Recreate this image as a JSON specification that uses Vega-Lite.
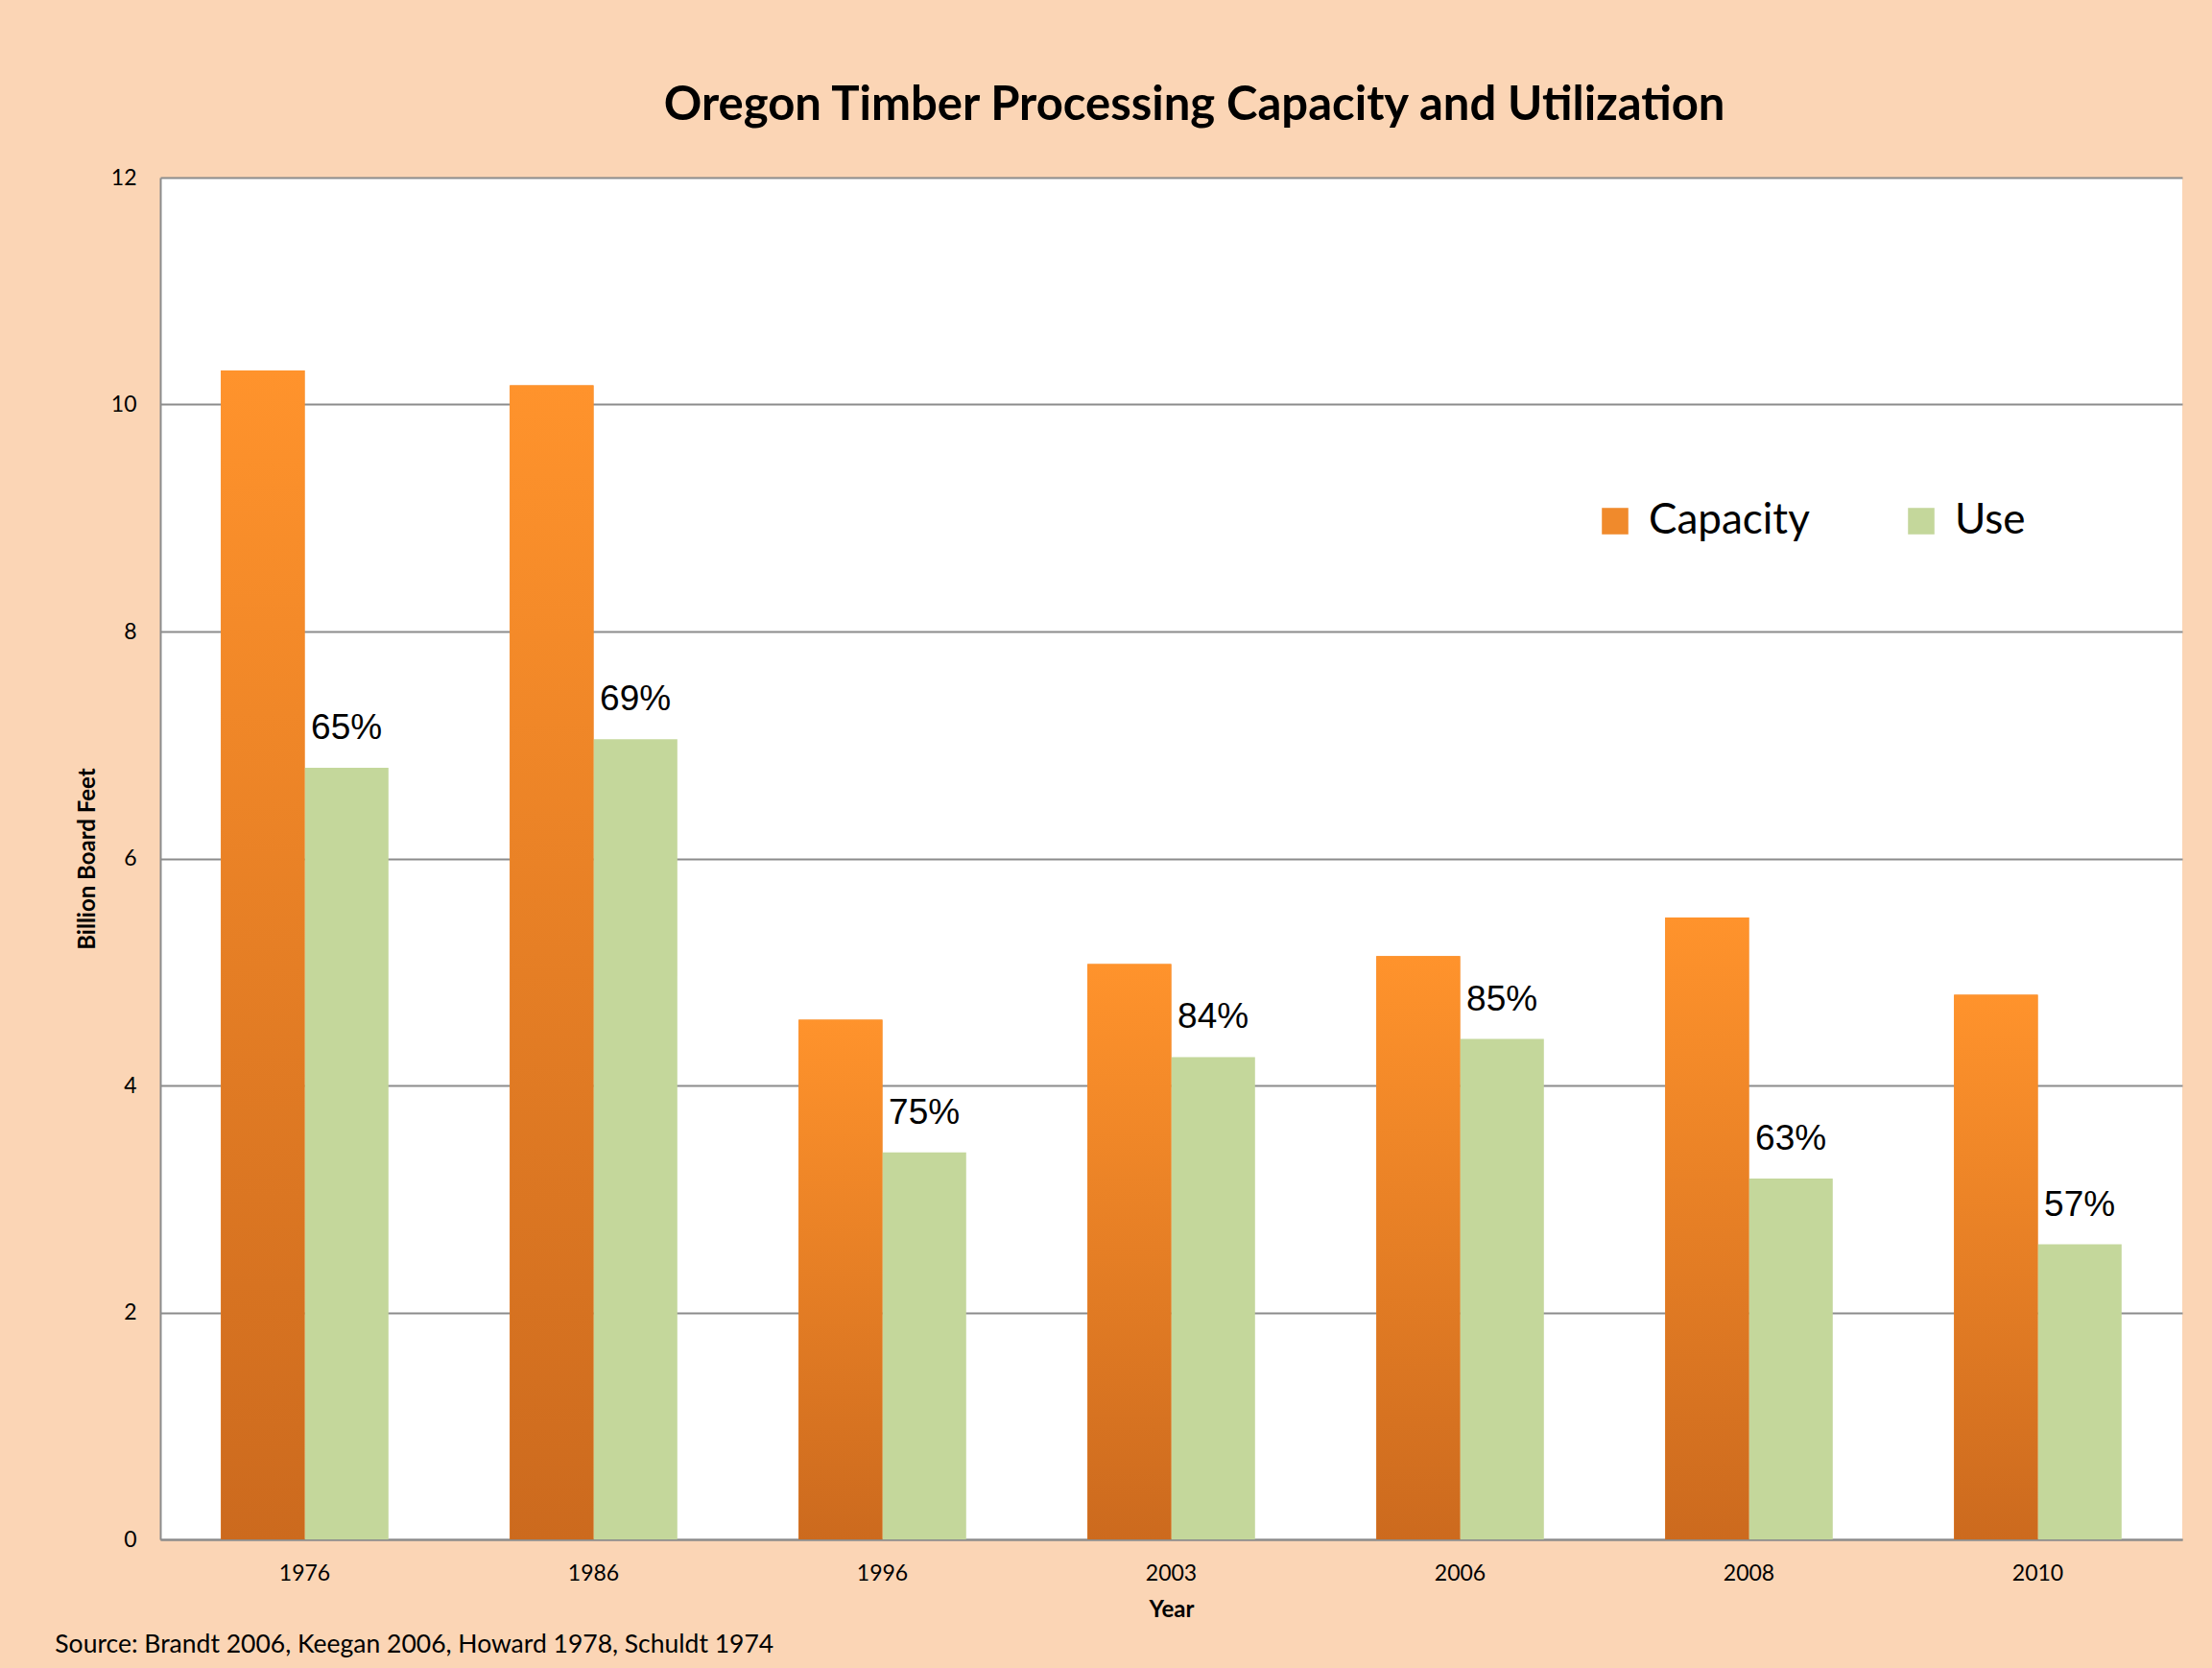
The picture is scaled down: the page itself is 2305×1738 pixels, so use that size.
{
  "$schema": "https://vega.github.io/schema/vega-lite/v6.json",
  "background": "#FBD5B5",
  "padding": {"left": 57, "top": 86, "right": 40, "bottom": 40},
  "title": {
    "text": "Oregon Timber Processing Capacity and Utilization",
    "font": "Lato", "fontSize": 49, "fontWeight": "bold", "color": "black",
    "anchor": "middle", "offset": 39, "dx": 79
  },
  "datasets": {
    "bars": [
      {"year": "1976", "series": "Capacity", "value": 10.3, "label": ""},
      {"year": "1976", "series": "Use", "value": 6.8, "label": "65%"},
      {"year": "1986", "series": "Capacity", "value": 10.17, "label": ""},
      {"year": "1986", "series": "Use", "value": 7.05, "label": "69%"},
      {"year": "1996", "series": "Capacity", "value": 4.58, "label": ""},
      {"year": "1996", "series": "Use", "value": 3.41, "label": "75%"},
      {"year": "2003", "series": "Capacity", "value": 5.07, "label": ""},
      {"year": "2003", "series": "Use", "value": 4.25, "label": "84%"},
      {"year": "2006", "series": "Capacity", "value": 5.14, "label": ""},
      {"year": "2006", "series": "Use", "value": 4.41, "label": "85%"},
      {"year": "2008", "series": "Capacity", "value": 5.48, "label": ""},
      {"year": "2008", "series": "Use", "value": 3.18, "label": "63%"},
      {"year": "2010", "series": "Capacity", "value": 4.8, "label": ""},
      {"year": "2010", "series": "Use", "value": 2.6, "label": "57%"}
    ]
  },
  "vconcat": [
    {
      "width": 2107,
      "height": 1419,
      "title": {
        "text": "Source: Brandt 2006, Keegan 2006, Howard 1978, Schuldt 1974",
        "orient": "bottom", "anchor": "start", "frame": "bounds",
        "font": "Lato", "fontSize": 26.5, "fontWeight": "normal", "color": "black",
        "offset": 12, "dx": -22
      },
      "data": {"name": "bars"},
      "encoding": {
        "x": {
          "field": "year", "type": "nominal", "sort": null,
          "scale": {"paddingInner": 0.42, "paddingOuter": 0.21},
          "axis": {"title": "Year", "labelAngle": 0}
        },
        "xOffset": {
          "field": "series", "type": "nominal",
          "scale": {"domain": ["Capacity", "Use"], "paddingInner": 0, "paddingOuter": 0}
        },
        "y": {
          "field": "value", "type": "quantitative",
          "scale": {"domain": [0, 12], "nice": false},
          "axis": {"title": "Billion Board Feet", "values": [0, 2, 4, 6, 8, 10, 12]}
        }
      },
      "layer": [
        {
          "mark": {"type": "bar"},
          "encoding": {
            "color": {
              "field": "series", "type": "nominal",
              "scale": {"domain": ["Capacity", "Use"], "range": ["#F08A2C", "#C4D79B"]},
              "legend": {
                "title": null, "orient": "none", "direction": "horizontal", "columns": 2,
                "legendX": 1494, "legendY": 336, "padding": 0,
                "symbolType": "square", "symbolSize": 760, "symbolStrokeWidth": 0,
                "labelFontSize": 44, "labelFont": "Lato", "labelColor": "black", "labelLimit": 400,
                "labelOffset": 13, "columnPadding": 94
              }
            }
          }
        },
        {
          "transform": [{"filter": "datum.series === 'Capacity'"}],
          "mark": {
            "type": "bar",
            "fill": {
              "gradient": "linear", "x1": 0, "y1": 0, "x2": 0, "y2": 1,
              "stops": [
                {"offset": 0, "color": "#FF932C"},
                {"offset": 1, "color": "#CC6A1E"}
              ]
            }
          }
        },
        {
          "transform": [{"filter": "datum.series === 'Use'"}],
          "mark": {"type": "text", "font": "Liberation Sans", "fontSize": 37, "color": "black", "baseline": "middle", "dy": -41},
          "encoding": {"text": {"field": "label"}}
        }
      ]
    }
  ],
  "config": {
    "view": {"stroke": null, "fill": "white"},
    "font": "Lato",
    "axis": {
      "domainColor": "#8C8C8C", "domainWidth": 2,
      "ticks": false,
      "gridColor": "#8C8C8C", "gridWidth": 2,
      "labelFont": "Lato", "labelFontSize": 23, "labelColor": "black",
      "titleFont": "Lato", "titleFontWeight": "bold", "titleColor": "black"
    },
    "axisX": {"grid": false, "labelPadding": 24, "titleFontSize": 24, "titlePadding": 14},
    "axisY": {"grid": true, "labelPadding": 25, "titleFontSize": 24, "titlePadding": 12}
  }
}
